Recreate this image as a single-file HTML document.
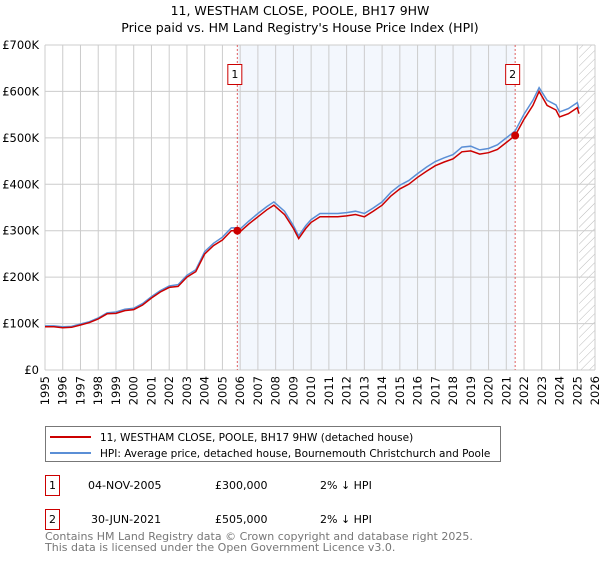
<!DOCTYPE html>
<html><head><meta charset="utf-8"><style>
body{margin:0;background:#fff;font-family:"DejaVu Sans","Liberation Sans",sans-serif;}
svg text{font-family:"DejaVu Sans","Liberation Sans",sans-serif;}
</style></head><body>
<svg id="c" width="600" height="560" xmlns="http://www.w3.org/2000/svg">
<text x="300" y="15" text-anchor="middle" font-size="12.5">11, WESTHAM CLOSE, POOLE, BH17 9HW</text>
<text x="300" y="32" text-anchor="middle" font-size="12.5">Price paid vs. HM Land Registry's House Price Index (HPI)</text>
<g id="plot"></g>
<g>
<rect x="45.5" y="426.5" width="455" height="35" fill="#fff" stroke="#777"/>
<line x1="50" y1="437" x2="91" y2="437" stroke="#cc0000" stroke-width="2"/>
<text x="100" y="441" font-size="10.5">11, WESTHAM CLOSE, POOLE, BH17 9HW (detached house)</text>
<line x1="50" y1="453" x2="91" y2="453" stroke="#5b8fd6" stroke-width="2"/>
<text x="100" y="457" font-size="10.5">HPI: Average price, detached house, Bournemouth Christchurch and Poole</text>
</g>
<g>
<rect x="45.5" y="475.5" width="14" height="20" fill="#fff" stroke="#cc0000"/>
<text x="52.5" y="489" font-size="11" text-anchor="middle">1</text>
<text x="88" y="489" font-size="11">04-NOV-2005</text>
<text x="215" y="489" font-size="11">£300,000</text>
<text x="320" y="489" font-size="11">2% ↓ HPI</text>
</g>
<g>
<rect x="45.5" y="509.5" width="14" height="20" fill="#fff" stroke="#cc0000"/>
<text x="52.5" y="523" font-size="11" text-anchor="middle">2</text>
<text x="91" y="523" font-size="11">30-JUN-2021</text>
<text x="215" y="523" font-size="11">£505,000</text>
<text x="320" y="523" font-size="11">2% ↓ HPI</text>
</g>
<text x="45" y="540" font-size="11" fill="#777">Contains HM Land Registry data © Crown copyright and database right 2025.</text>
<text x="45" y="551" font-size="11" fill="#777">This data is licensed under the Open Government Licence v3.0.</text>
</svg>
<script>
const years=[1995,1995.5,1996,1996.5,1997,1997.5,1998,1998.5,1999,1999.5,2000,2000.5,2001,2001.5,2002,2002.5,2003,2003.5,2004,2004.5,2005,2005.5,2005.84,2006,2006.5,2007,2007.5,2007.9,2008.5,2009,2009.3,2009.7,2010,2010.5,2011,2011.5,2012,2012.5,2013,2013.5,2014,2014.5,2015,2015.5,2016,2016.5,2017,2017.5,2018,2018.5,2019,2019.5,2020,2020.5,2021,2021.5,2022,2022.5,2022.85,2023.3,2023.8,2024,2024.5,2025,2025.1];
const priceK=[93,93,91,92,97,102,110,121,122,128,130,140,155,168,178,180,200,212,250,268,280,300,300,298,315,330,345,355,335,305,283,305,318,330,330,330,332,335,330,342,355,375,390,400,415,428,440,448,455,470,472,465,468,475,490,505,540,570,600,570,560,545,552,565,552];
const hpiK=[95,95,93,94,99,104,112,123,125,131,133,143,158,171,181,184,204,216,255,273,286,306,306,304,321,337,352,362,342,311,289,311,324,337,337,337,339,342,337,349,362,383,398,408,423,437,449,457,464,480,482,474,477,485,500,515,551,581,608,581,571,556,563,576,563];
const sales=[{x:2005.84,v:300,label:"1"},{x:2021.5,v:505,label:"2"}];
const yTicks=[0,100,200,300,400,500,600,700];
const yLabels=["£0","£100K","£200K","£300K","£400K","£500K","£600K","£700K"];
const x0=45,x1=595,y0=370,y1=45,ymin=1995,ymax=2026;
const X=y=>x0+(y-ymin)/(ymax-ymin)*(x1-x0);
const Y=v=>y0-v/700*(y0-y1);
const ns="http://www.w3.org/2000/svg",g=document.getElementById('plot');
function mk(t,a){const e=document.createElementNS(ns,t);for(const k in a)e.setAttribute(k,a[k]);g.appendChild(e);return e;}
let e=mk('rect',{x:X(sales[0].x),y:y1,width:X(sales[1].x)-X(sales[0].x),height:y0-y1,fill:'#eef3fc',opacity:0.7});


const defs=document.createElementNS(ns,'defs');defs.innerHTML='<pattern id="h" width="6" height="6" patternUnits="userSpaceOnUse" patternTransform="rotate(45)"><line x1="0" y1="0" x2="0" y2="6" stroke="#bbb" stroke-width="1"/></pattern>';g.appendChild(defs);
e=mk('rect',{x:X(2025.1),y:y1,width:x1-X(2025.1),height:y0-y1,fill:'url(#h)'});


for(let yr=1995;yr<=2026;yr++){
 e=mk('line',{x1:X(yr),x2:X(yr),y1:y1,y2:y0,stroke:'#ccc'});
 
 
 e=mk('text',{transform:`translate(${X(yr)+4},${y0+6}) rotate(-90)`,'font-size':'11.5','text-anchor':'end'});e.textContent=yr;
 
 
}
yTicks.forEach((v,i)=>{
 e=mk('line',{x1:x0,x2:x1,y1:Y(v),y2:Y(v),stroke:'#ccc'});
 
 
 e=mk('text',{x:x0-6,y:Y(v)+4,'font-size':'11.5','text-anchor':'end'});e.textContent=yLabels[i];
 
 
});
sales.forEach(s=>{
 e=mk('line',{x1:X(s.x),x2:X(s.x),y1:y1,y2:y0,stroke:'#e06060','stroke-dasharray':'2,2'});
 
 
});
function path(vals){return vals.map((v,i)=>(i?'L':'M')+X(years[i]).toFixed(1)+','+Y(v).toFixed(1)).join('');}
e=mk('path',{d:path(hpiK),fill:'none',stroke:'#5b8fd6','stroke-width':1.5});


e=mk('path',{d:path(priceK),fill:'none',stroke:'#cc0000','stroke-width':1.5});


sales.forEach(s=>{
 e=mk('circle',{cx:X(s.x),cy:Y(s.v),r:4,fill:'#cc0000'});
 
 
 e=mk('rect',{x:X(s.x)-9.5,y:64.5,width:14,height:20,fill:'#fff',stroke:'#cc0000'});
 
 
 e=mk('text',{x:X(s.x)-2.5,y:78,'font-size':'11','text-anchor':'middle'});e.textContent=s.label;
 
 
});
</script>
</body></html>
